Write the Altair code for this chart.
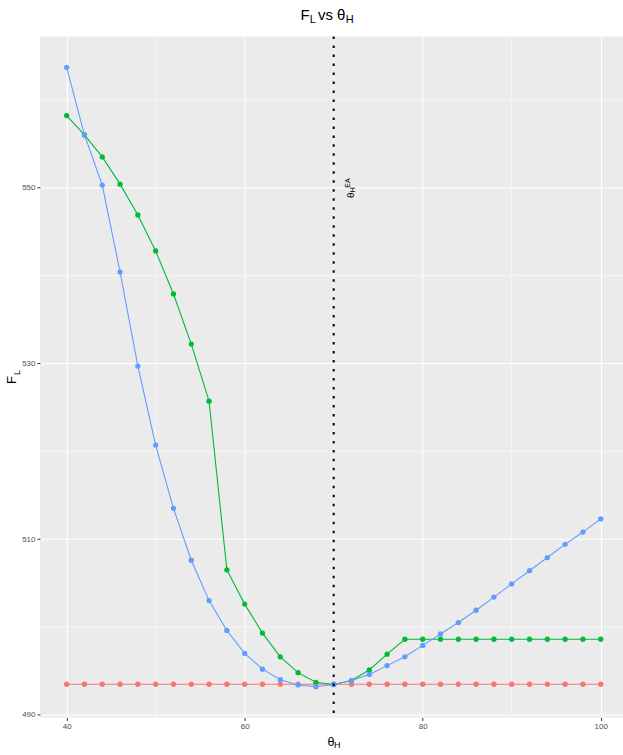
import altair as alt
import pandas as pd

# Values of F_L sampled along theta_H for the three strategies
theta_h = [40, 42, 44, 46, 48, 50, 52, 54, 56, 58, 60, 62, 64, 66, 68, 70,
           72, 74, 76, 78, 80, 82, 84, 86, 88, 90, 92, 94, 96, 98, 100]

f_flat = [493.48, 493.48, 493.48, 493.48, 493.48, 493.48, 493.48, 493.48,
          493.48, 493.48, 493.48, 493.48, 493.48, 493.48, 493.48, 493.48,
          493.48, 493.48, 493.48, 493.48, 493.48, 493.48, 493.48, 493.48,
          493.48, 493.48, 493.48, 493.48, 493.48, 493.48, 493.48]

f_capped = [558.2, 556.0, 553.5, 550.4, 546.9, 542.8, 537.9, 532.2, 525.7,
            506.5, 502.6, 499.3, 496.6, 494.8, 493.7, 493.45, 493.9, 495.1,
            496.9, 498.6, 498.6, 498.6, 498.6, 498.6, 498.6, 498.6, 498.6,
            498.6, 498.6, 498.6, 498.6]

f_free = [563.7, 556.0, 550.3, 540.4, 529.7, 520.7, 513.5, 507.6, 503.0,
          499.6, 497.0, 495.2, 494.0, 493.4, 493.2, 493.45, 493.9, 494.6,
          495.6, 496.6, 497.9, 499.2, 500.5, 501.9, 503.4, 504.9, 506.4,
          507.9, 509.4, 510.8, 512.3]

series_names = ["flat", "capped", "free"]
series_colors = ["#F8766D", "#00BA38", "#619CFF"]

x_major = [40, 60, 80, 100]
x_minor = [50, 70, 90]
y_major = [490, 510, 530, 550]
y_minor = [500, 520, 540, 560]

theta_ea = 70
label_y = 550
label_x = 72

FONT = "Liberation Sans Narrow, Liberation Sans, Arial, sans-serif"

rows = []
for name, vals in zip(series_names, [f_flat, f_capped, f_free]):
    for t, v in zip(theta_h, vals):
        rows.append({"theta": t, "F": v, "series": name})
df = pd.DataFrame(rows)

W, H = 584, 682
x_scale = alt.Scale(domain=[37, 102.5], nice=False, zero=False)
y_scale = alt.Scale(domain=[489.7, 567.2], nice=False, zero=False)

axis_common = dict(
    labelFont=FONT, labelFontSize=8, labelColor="#4D4D4D",
    tickColor="#333333", tickSize=3, tickWidth=1, domain=False,
    grid=True, gridColor="white", gridWidth=1.1, title=None,
    labelPadding=2,
)

x_enc = alt.X("theta:Q", scale=x_scale,
              axis=alt.Axis(values=x_major, **axis_common))
y_enc = alt.Y("F:Q", scale=y_scale,
              axis=alt.Axis(values=y_major, **axis_common))
color_enc = alt.Color("series:N",
                      scale=alt.Scale(domain=series_names, range=series_colors),
                      legend=None)

base = alt.Chart(df)

minor_x = alt.Chart(pd.DataFrame({"v": x_minor})).mark_rule(
    color="white", strokeWidth=0.55).encode(x=alt.X("v:Q", scale=x_scale))
minor_y = alt.Chart(pd.DataFrame({"v": y_minor})).mark_rule(
    color="white", strokeWidth=0.55).encode(y=alt.Y("v:Q", scale=y_scale))

lines = base.mark_line(strokeWidth=1.1, clip=True).encode(
    x=x_enc, y=y_enc, color=color_enc, detail="series:N")
points = base.mark_point(filled=True, size=28, opacity=1, clip=True).encode(
    x=x_enc, y=y_enc, color=color_enc)

vline = alt.Chart(pd.DataFrame({"v": [theta_ea]})).mark_rule(
    color="black", strokeWidth=2, strokeDash=[2.5, 6.5], strokeCap="butt"
).encode(x=alt.X("v:Q", scale=x_scale))

lab_df = pd.DataFrame({"x": [label_x], "y": [label_y]})
lab_base = alt.Chart(lab_df).encode(
    x=alt.X("x:Q", scale=x_scale), y=alt.Y("y:Q", scale=y_scale))
lab_theta = lab_base.mark_text(text="θ", angle=270, align="left",
                               baseline="alphabetic", font=FONT, fontSize=10,
                               dx=-10.4, dy=3, color="black")
lab_sub = lab_base.mark_text(text="H", angle=270, align="left",
                             baseline="alphabetic", font=FONT, fontSize=7,
                             dx=-4.7, dy=4, color="black")
lab_sup = lab_base.mark_text(text="EA", angle=270, align="left",
                             baseline="alphabetic", font=FONT, fontSize=7,
                             dx=0, dy=-1.3, color="black")


def txt(s, x, y, size, angle=0):
    return alt.Chart(pd.DataFrame({"a": [0]})).mark_text(
        text=s, align="left", baseline="alphabetic", font=FONT,
        fontSize=size, angle=angle, color="black"
    ).encode(x=alt.value(x), y=alt.value(y))


# title "F_L vs θ_H"
title_parts = [
    txt("F", 261, -17, 15),
    txt("L", 270.2, -14, 11),
    txt("vs θ", 278.5, -17, 15),
    txt("H", 306.3, -13.5, 11),
]
# x-axis title θ_H
x_title = [txt("θ", 288, 711, 12.5), txt("H", 294.5, 713, 9)]
# y-axis title F_L (rotated)
y_title = [txt("F", -23.5, 348, 13, 270), txt("L", -20, 339, 9, 270)]

chart = alt.layer(
    minor_x, minor_y, lines, points, vline, lab_theta, lab_sub, lab_sup,
    *title_parts, *x_title, *y_title
).properties(
    width=W, height=H,
    background="white",
    autosize=alt.AutoSizeParams(type="none"),
    padding={"left": 40, "top": 36, "right": 0, "bottom": 37},
).configure_view(fill="#EBEBEB", strokeWidth=0, strokeOpacity=0)

chart.save("out.html", embed_options={"renderer": "svg", "actions": False})
